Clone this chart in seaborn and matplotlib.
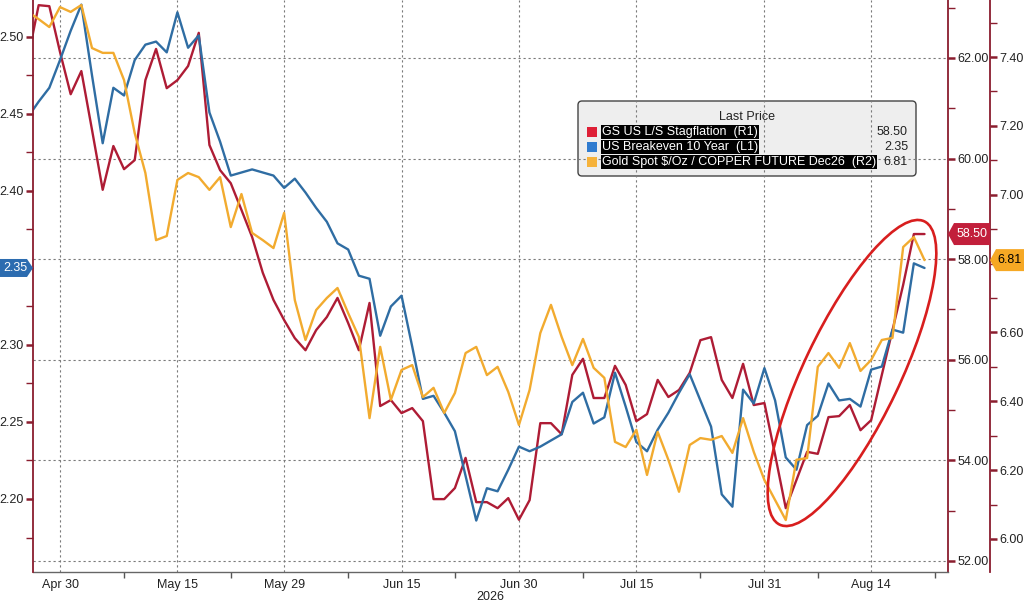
import numpy as np
import pandas as pd
import matplotlib
matplotlib.use("Agg")
import matplotlib.pyplot as plt
import seaborn as sns
from matplotlib.patches import Polygon, Ellipse, FancyBboxPatch, Rectangle
from matplotlib.transforms import IdentityTransform
from matplotlib.ticker import MultipleLocator, FormatStrFormatter

# ---------------- data ----------------
start_date = "2026-04-27"
end_date = "2026-08-21"

breakeven_10y = [2.448, 2.458, 2.467, 2.485, 2.504, 2.521, 2.475, 2.431, 2.467, 2.462,
                 2.485, 2.495, 2.497, 2.490, 2.516, 2.493, 2.501, 2.451, 2.432, 2.410,
                 2.412, 2.414, 2.412, 2.410, 2.402, 2.408, 2.399, 2.389, 2.380, 2.366,
                 2.362, 2.345, 2.343, 2.306, 2.325, 2.332, 2.299, 2.265, 2.267, 2.256,
                 2.244, 2.215, 2.186, 2.207, 2.205, 2.219, 2.234, 2.231, 2.234, 2.238,
                 2.242, 2.263, 2.269, 2.249, 2.253, 2.282, 2.260, 2.237, 2.231, 2.245,
                 2.256, 2.269, 2.281, 2.264, 2.247, 2.203, 2.195, 2.271, 2.262, 2.285,
                 2.264, 2.227, 2.219, 2.248, 2.254, 2.275, 2.264, 2.265, 2.260, 2.284,
                 2.286, 2.310, 2.308, 2.353, 2.350]

stagflation = [62.00, 63.05, 63.03, 62.12, 61.28, 61.74, 60.57, 59.38, 60.25, 59.79,
               59.97, 61.56, 62.18, 61.40, 61.56, 61.84, 62.50, 60.27, 59.77, 59.51,
               58.98, 58.44, 57.73, 57.19, 56.79, 56.43, 56.19, 56.59, 56.85, 57.23,
               56.73, 56.19, 57.13, 55.08, 55.20, 54.94, 55.04, 54.78, 53.23, 53.23,
               53.45, 54.05, 53.17, 53.17, 53.05, 53.25, 52.82, 53.21, 54.74, 54.74,
               54.52, 55.70, 56.02, 55.24, 55.24, 55.88, 55.50, 54.78, 54.92, 55.60,
               55.26, 55.40, 55.74, 56.39, 56.45, 55.60, 55.24, 55.92, 55.10, 55.14,
               54.11, 53.05, 53.61, 54.17, 54.13, 54.86, 54.88, 55.10, 54.60, 54.80,
               55.70, 56.59, 57.49, 58.50, 58.50]

gold_copper = [7.531, 7.510, 7.487, 7.545, 7.531, 7.551, 7.426, 7.412, 7.412, 7.333,
               7.179, 7.063, 6.868, 6.880, 7.043, 7.063, 7.051, 7.014, 7.051, 6.906,
               7.002, 6.889, 6.868, 6.845, 6.947, 6.694, 6.578, 6.665, 6.700, 6.729,
               6.656, 6.587, 6.351, 6.558, 6.404, 6.491, 6.505, 6.412, 6.439, 6.366,
               6.424, 6.540, 6.558, 6.476, 6.500, 6.427, 6.331, 6.433, 6.598, 6.680,
               6.587, 6.505, 6.581, 6.497, 6.468, 6.282, 6.267, 6.317, 6.186, 6.311,
               6.230, 6.137, 6.273, 6.293, 6.288, 6.299, 6.250, 6.351, 6.253, 6.171,
               6.113, 6.055, 6.230, 6.235, 6.500, 6.540, 6.497, 6.569, 6.488, 6.520,
               6.578, 6.584, 6.848, 6.877, 6.810]

major_tick_dates = ["2026-04-30", "2026-05-15", "2026-05-29", "2026-06-15",
                    "2026-06-30", "2026-07-15", "2026-07-31", "2026-08-14"]
minor_tick_dates = ["2026-05-08", "2026-05-22", "2026-06-08", "2026-06-22",
                    "2026-07-08", "2026-07-23", "2026-08-07", "2026-08-24"]
year_label = "2026"

series_names = ["GS US L/S Stagflation  (R1)",
                "US Breakeven 10 Year  (L1)",
                "Gold Spot $/Oz / COPPER FUTURE Dec26  (R2)"]
legend_title = "Last Price"

# labelled ticks (the level hidden under a last-value tag is left out)
l1_ticks = [2.20, 2.25, 2.30, 2.40, 2.45, 2.50]
r1_ticks = [52, 54, 56, 58, 60, 62]
r2_ticks = [6.00, 6.20, 6.40, 6.60, 7.00, 7.20, 7.40]

# ---------------- styling ----------------
RED = "#ae1c35"
BLUE = "#2f6da3"
YELLOW = "#f2ab2f"
MAROON = "#8a1d2e"
ELLIPSE_C = "#d81e1e"
TAG_RED = "#c21f3b"
TAG_ORANGE = "#f6a824"
TAG_BLUE = "#2c6cb0"
GRID_C = "#7a7a7a"
TXT = "#222222"
LW = 1.7

sns.set_theme(style="white")
plt.rcParams["font.family"] = ["Liberation Sans", "DejaVu Sans"]
plt.rcParams["font.size"] = 9

dates = pd.bdate_range(start_date, end_date)
pos = np.busday_count(np.datetime64(start_date), dates.values.astype("datetime64[D]"))
df = pd.DataFrame({"pos": pos, "date": dates, "l1": breakeven_10y,
                   "r1": stagflation, "r2": gold_copper})

W, H = 1024, 605
fig = plt.figure(figsize=(W / 100, H / 100), dpi=100, facecolor="white")
ax = fig.add_axes([33 / W, 33 / H, 915 / W, 572 / H])  # R1 base axis
ax.patch.set_visible(False)
ax_l = ax.twinx()
ax_r2 = ax.twinx()

# R1 (red) on base axis
sns.lineplot(data=df, x="pos", y="r1", ax=ax, color=RED, lw=LW)
ax.set_ylim(51.781, 63.153)
ax.yaxis.tick_right()
ax.set_yticks(r1_ticks)
ax.yaxis.set_minor_locator(MultipleLocator(1))
ax.yaxis.set_major_formatter(FormatStrFormatter("%.2f"))
ax.tick_params(axis="y", which="major", direction="out", length=5, width=1.8,
               color=MAROON, labelsize=9, labelcolor=TXT, pad=1.5,
               left=False, labelleft=False, right=True, labelright=True)
ax.tick_params(axis="y", which="minor", direction="out", length=5, width=1.0,
               color=MAROON, left=False, right=True)
ax.grid(axis="y", which="major", color=GRID_C, lw=0.8, ls=(0, (2, 2.5)))
ax.grid(axis="x", which="major", color=GRID_C, lw=0.8, ls=(0, (2, 2.5)))
for s in ["left", "top"]:
    ax.spines[s].set_visible(False)
ax.spines["right"].set_color(MAROON)
ax.spines["right"].set_linewidth(1.3)
ax.spines["bottom"].set_color("#666666")
ax.spines["bottom"].set_linewidth(1.0)
ax.set_ylabel("")

# L1 (blue)
sns.lineplot(data=df, x="pos", y="l1", ax=ax_l, color=BLUE, lw=LW)
ax_l.set_ylim(2.1526, 2.524)
ax_l.yaxis.tick_left()
ax_l.set_yticks(l1_ticks)
ax_l.yaxis.set_minor_locator(MultipleLocator(0.025))
ax_l.yaxis.set_major_formatter(FormatStrFormatter("%.2f"))
ax_l.tick_params(axis="y", which="major", direction="out", length=5, width=1.8,
                 color=MAROON, labelsize=9, labelcolor=TXT, pad=1.5,
                 left=True, labelleft=True, right=False, labelright=False)
ax_l.tick_params(axis="y", which="minor", direction="out", length=5, width=1.0,
                 color=MAROON, left=True, right=False)
for s in ["right", "top", "bottom"]:
    ax_l.spines[s].set_visible(False)
ax_l.spines["left"].set_visible(True)
ax_l.spines["left"].set_color(MAROON)
ax_l.spines["left"].set_linewidth(1.3)
ax_l.set_ylabel("")
ax_l.set_xlabel("")
ax_l.grid(False)

# R2 (yellow)
sns.lineplot(data=df, x="pos", y="r2", ax=ax_r2, color=YELLOW, lw=LW)
ax_r2.set_ylim(5.904, 7.5656)
ax_r2.spines["right"].set_position(("outward", 42 * 0.72))
ax_r2.set_yticks(r2_ticks)
ax_r2.yaxis.set_minor_locator(MultipleLocator(0.1))
ax_r2.yaxis.set_major_formatter(FormatStrFormatter("%.2f"))
ax_r2.tick_params(axis="y", which="major", direction="out", length=5, width=1.8,
                  color=MAROON, labelsize=9, labelcolor=TXT, pad=1.5)
ax_r2.tick_params(axis="y", which="minor", direction="out", length=5, width=1.0,
                  color=MAROON)
for s in ["left", "top", "bottom"]:
    ax_r2.spines[s].set_visible(False)
ax_r2.spines["right"].set_color(MAROON)
ax_r2.spines["right"].set_linewidth(1.3)
ax_r2.set_ylabel("")
ax_r2.set_xlabel("")
ax_r2.grid(False)

# x axis
major_pos = np.busday_count(np.datetime64(start_date),
                            np.array(major_tick_dates, dtype="datetime64[D]"))
minor_pos = np.busday_count(np.datetime64(start_date),
                            np.array(minor_tick_dates, dtype="datetime64[D]"))
major_labels = [pd.Timestamp(d).strftime("%b %d") for d in major_tick_dates]
ax.set_xticks(major_pos, major_labels)
ax.set_xticks(minor_pos, minor=True)
ax.tick_params(axis="x", which="major", length=0, pad=5, labelsize=9, labelcolor=TXT)
ax.tick_params(axis="x", which="minor", length=4, width=1.0, color="#555555",
               direction="out", bottom=True)
ax.set_xlim(0.47, 86.2)
ax.set_xlabel(year_label, fontsize=9, color=TXT, labelpad=0)

# ---------------- last value tags ----------------
ident = IdentityTransform()


def disp_y(axis, v):
    return axis.transData.transform((0, v))[1]


yb = disp_y(ax_l, breakeven_10y[-1])
fig.add_artist(Polygon([(0, yb - 9), (27, yb - 9), (33, yb), (27, yb + 9), (0, yb + 9)],
                       closed=True, fc=TAG_BLUE, ec="none", transform=ident))
fig.text(15, yb, f"{breakeven_10y[-1]:.2f}", color="white", ha="center", va="center",
         fontsize=9, transform=ident)

yr = disp_y(ax, stagflation[-1])
fig.add_artist(Polygon([(948, yr), (954, yr + 11), (990, yr + 11), (990, yr - 11), (954, yr - 11)],
                       closed=True, fc=TAG_RED, ec="none", transform=ident))
fig.text(972, yr, f"{stagflation[-1]:.2f}", color="white", ha="center", va="center",
         fontsize=9, transform=ident)

yy = disp_y(ax_r2, gold_copper[-1])
fig.add_artist(Polygon([(990, yy), (996, yy + 11), (1024, yy + 11), (1024, yy - 11), (996, yy - 11)],
                       closed=True, fc=TAG_ORANGE, ec="none", transform=ident))
fig.text(1009, yy, f"{gold_copper[-1]:.2f}", color="black", ha="center", va="center",
         fontsize=9, transform=ident)

# ---------------- annotation ellipse ----------------
fig.add_artist(Ellipse((852, H - 373), width=336, height=96, angle=64.5,
                       fill=False, ec=ELLIPSE_C, lw=1.9, transform=ident, zorder=5))

# ---------------- legend box ----------------
fig.add_artist(FancyBboxPatch((578, H - 176), 338, 75,
                              boxstyle="round,pad=0,rounding_size=4",
                              fc="#eeeeee", ec="#444444", lw=1.0,
                              transform=ident, zorder=-1))
fig.text(747, H - 117, legend_title, ha="center", va="center", fontsize=9,
         color=TXT, transform=ident)
legend_colors = ["#de1f36", "#2f7bcf", "#f6b23a"]
legend_values = [stagflation[-1], breakeven_10y[-1], gold_copper[-1]]
for k, (name, col, val) in enumerate(zip(series_names, legend_colors, legend_values)):
    yrow = H - (132 + 15 * k)
    fig.add_artist(Rectangle((587, yrow - 5), 10, 10, fc=col, ec="none", transform=ident))
    fig.text(602, yrow, name, ha="left", va="center", fontsize=9, color="white",
             transform=ident,
             bbox=dict(facecolor="black", edgecolor="none", pad=0.6))
    fig.text(908, yrow, f"{val:.2f}", ha="right", va="center", fontsize=9,
             color=TXT, transform=ident)

fig.savefig("out.png", dpi=100, facecolor="white")
